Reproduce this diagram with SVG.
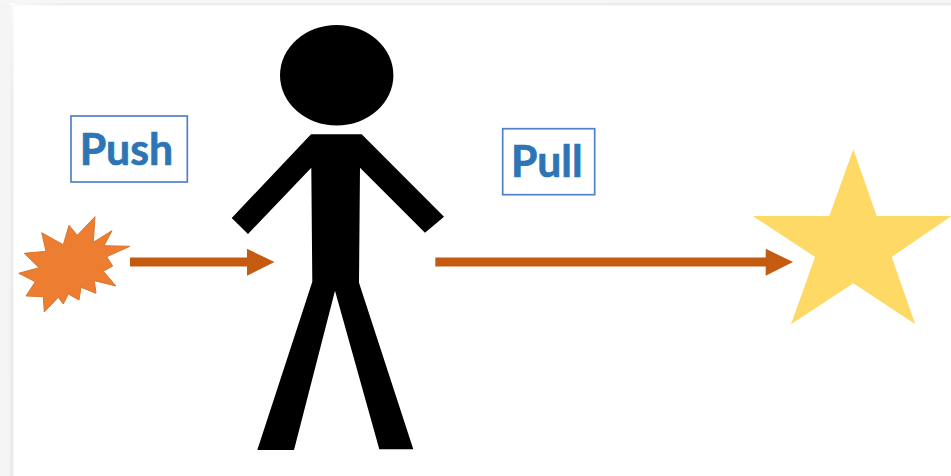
<svg xmlns="http://www.w3.org/2000/svg" width="951" height="476" viewBox="0 0 951 476">
<style>
.box{fill:#fff;stroke:#4f80cc;stroke-width:1.7}
.lbl{font-family:"Lato","Open Sans",sans-serif;font-weight:700;font-size:43px;fill:#2e75b6;stroke:#2e75b6;stroke-width:0.7}
.arrow{fill:#c55a11}
</style>
<defs>
<linearGradient id="top" x1="0" y1="0" x2="1" y2="0"><stop offset="0" stop-color="#f8f8f8"/><stop offset="0.06" stop-color="#ededed"/><stop offset="1" stop-color="#ebebeb"/></linearGradient>
<linearGradient id="left" x1="0" y1="0" x2="0" y2="1"><stop offset="0" stop-color="#f8f8f8"/><stop offset="0.2" stop-color="#eeeeee"/><stop offset="1" stop-color="#ebebeb"/></linearGradient>
</defs>
<rect width="951" height="476" fill="#fff"/>
<g id="frame">
<rect x="0" y="0" width="951" height="3" fill="#f6f6f6"/>
<rect x="13" y="3" width="938" height="2.5" fill="url(#top)"/>
<rect x="0" y="3" width="10" height="473" fill="#f5f5f5"/>
<rect x="10" y="5" width="3.5" height="471" fill="url(#left)"/>
</g>
<g id="connectors">
<path class="arrow" d="M130 257.6H247V248.8L274.5 262L247 275.7V266.6H130Z"/>
<path class="arrow" d="M435.3 257.6H765.7V248.8L793 262L765.7 275.7V266.6H435.3Z"/>
</g>
<g id="burst">
<polygon fill="#ed7d31" stroke="#d9772f" stroke-width="1" points="95,216.7 93.3,242.3 112,230.7 104,245.7 130,246.3 106.7,256.7 112.7,266 103.3,271.3 116,286 94.3,280.7 96,293.3 81,287.3 79,300 68.3,294 63.3,304 58.3,297.3 44.3,312 43.3,296.7 26,296 35.3,281.7 18.7,273.3 39,267.7 24.3,253.3 46,251.3 41.7,232.7 63.3,244.7 69,225.3 77.3,235.3"/>
</g>
<g id="push">
<rect class="box" x="71" y="116" width="116.3" height="66"/>
<text class="lbl" x="79.7" y="165" textLength="93.5" lengthAdjust="spacingAndGlyphs">Push</text>
</g>
<g id="person">
<ellipse cx="336.7" cy="75.3" rx="56.7" ry="50.3" fill="#000"/>
<polygon fill="#000" points="311,134.3 361.7,134.3 444,216.7 425,232.7 360,167.7 359,282.7 413.3,449.3 379.3,449.3 335,290.7 294,450 257.3,450 312.3,281.7 311.3,167.7 248,234 231.7,218"/>
</g>
<g id="pull">
<rect class="box" x="502.7" y="128.7" width="92" height="66"/>
<text class="lbl" x="511" y="176.7" textLength="71.5" lengthAdjust="spacingAndGlyphs">Pull</text>
</g>
<g id="star">
<polygon fill="#ffd966" points="853.3,149.3 876.7,216 951.3,216 891.7,257 915.3,324.3 853.3,283.3 791,324.3 815,257 752.7,216 829.3,216"/>
</g>
</svg>
